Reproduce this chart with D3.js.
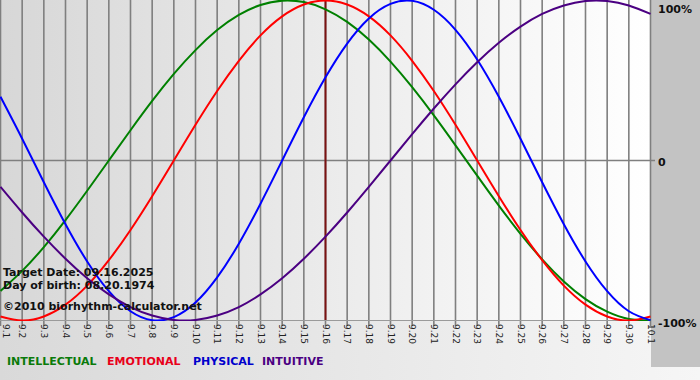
<!DOCTYPE html>
<html><head><meta charset="utf-8">
<script src="https://cdn.jsdelivr.net/npm/d3@7"></script>
<style>html,body{margin:0;padding:0;background:#fff;}svg{display:block;}</style>
</head><body>
<script>
// ---- data ----
const days = ["9.1","9.2","9.3","9.4","9.5","9.6","9.7","9.8","9.9","9.10","9.11","9.12","9.13","9.14","9.15","9.16","9.17","9.18","9.19","9.20","9.21","9.22","9.23","9.24","9.25","9.26","9.27","9.28","9.29","9.30","10.1"];
const intellectual = [-0.815,-0.690,-0.541,-0.372,-0.189,0,0.189,0.372,0.541,0.690,0.815,0.910,0.972,0.999,0.990,0.945,0.866,0.756,0.618,0.458,0.282,0.095,-0.095,-0.282,-0.458,-0.618,-0.756,-0.866,-0.945,-0.990,-0.999];
const emotional = [-0.975,-1,-0.975,-0.901,-0.782,-0.623,-0.434,-0.223,0,0.223,0.434,0.623,0.782,0.901,0.975,1,0.975,0.901,0.782,0.623,0.434,0.223,0,-0.223,-0.434,-0.623,-0.782,-0.901,-0.975,-1,-0.975];
const physical = [0.398,0.136,-0.136,-0.398,-0.631,-0.817,-0.942,-0.998,-0.979,-0.888,-0.731,-0.520,-0.270,0,0.270,0.520,0.731,0.888,0.979,0.998,0.942,0.817,0.631,0.398,0.136,-0.136,-0.398,-0.631,-0.817,-0.942,-0.998];
const intuitive = [-0.165,-0.325,-0.476,-0.614,-0.736,-0.837,-0.916,-0.969,-0.997,-0.997,-0.969,-0.916,-0.837,-0.736,-0.614,-0.476,-0.325,-0.165,0,0.165,0.325,0.476,0.614,0.736,0.837,0.916,0.969,0.997,0.997,0.969,0.916];
const seriesNames = ["INTELLECTUAL","EMOTIONAL","PHYSICAL","INTUITIVE"];
const yTickValues = [1,0,-1];
const yTickLabels = ["100%","0","-100%"];
const targetDay = "9.16";
const infoLines = ["Target Date: 09.16.2025","Day of birth: 08.20.1974","\u00A92010 biorhythm-calculator.net"];

// ---- chart ----
const W = 700, H = 380;
const svg = d3.select("body").append("svg").attr("width", W).attr("height", H);
const defs = svg.append("defs");
const g1 = defs.append("linearGradient").attr("id","bgPage").attr("x1","0").attr("x2","1").attr("y1","0").attr("y2","0");
g1.append("stop").attr("offset","0").attr("stop-color","#d9d9d9");
g1.append("stop").attr("offset","1").attr("stop-color","#f6f6f6");
const g2 = defs.append("linearGradient").attr("id","bgPlot").attr("x1","0").attr("x2","1").attr("y1","0").attr("y2","0");
g2.append("stop").attr("offset","0").attr("stop-color","#d7d7d7");
g2.append("stop").attr("offset","1").attr("stop-color","#ffffff");

const plot = {left: 0.5, right: 650.5, top: 0.5, bottom: 320.5};
const x = d3.scalePoint().domain(days).range([plot.left, plot.right]);
const y = d3.scaleLinear().domain([-1, 1]).range([plot.bottom, plot.top]);

svg.append("rect").attr("width",W).attr("height",H).attr("fill","url(#bgPage)");
svg.append("rect").attr("x",651).attr("y",0).attr("width",49).attr("height",367).attr("fill","#c3c3c3");
svg.append("rect").attr("x",0).attr("y",0).attr("width",651).attr("height",320.5).attr("fill","url(#bgPlot)");

// grid lines
svg.append("g").selectAll("line").data(days).join("line")
  .attr("x1", d => x(d)).attr("x2", d => x(d))
  .attr("y1", 0).attr("y2", 326)
  .attr("stroke", "#7f7f7f").attr("stroke-width", 1.6);
// zero line
svg.append("line").attr("x1",0).attr("x2",655).attr("y1",y(0)).attr("y2",y(0))
  .attr("stroke","#7f7f7f").attr("stroke-width",1.4);
// bottom axis line
svg.append("line").attr("x1",0).attr("x2",651).attr("y1",plot.bottom).attr("y2",plot.bottom)
  .attr("stroke","#9a9a9a").attr("stroke-width",1);

// x tick labels (rotated)
svg.append("g").selectAll("text").data(days).join("text")
  .attr("transform", d => `translate(${Math.max(2.5, x(d)-3)},${324}) rotate(90)`)
  .attr("font-family","Tahoma, 'DejaVu Sans', sans-serif").attr("font-size","9px")
  .attr("fill","#222").attr("text-anchor","start")
  .text(d => d);

// y labels at right
svg.append("g").selectAll("text").data(yTickValues).join("text")
  .attr("x", 658).attr("y", (d,i) => i===0 ? 13 : (i===1 ? y(d)+5 : 327))
  .attr("font-family","Verdana, 'DejaVu Sans', sans-serif").attr("font-size","11px").attr("font-weight","bold")
  .attr("fill","#111")
  .text((d,i) => yTickLabels[i]);

// target line
svg.append("line").attr("x1",x(targetDay)).attr("x2",x(targetDay)).attr("y1",0).attr("y2",320)
  .attr("stroke","#7a1212").attr("stroke-width",2);

// curves
const colors = ["#008000","#ff0000","#0000ff","#4b0082"];
const seriesData = [intellectual, emotional, physical, intuitive];
const line = d3.line().x((d,i) => x(days[i])).y(d => y(d)).curve(d3.curveNatural);
svg.append("clipPath").attr("id","clipPlot").append("rect").attr("x",0).attr("y",-1).attr("width",651).attr("height",322);
svg.append("g").attr("clip-path","url(#clipPlot)").selectAll("path").data(seriesData).join("path")
  .attr("d", line).attr("fill","none")
  .attr("stroke",(d,i)=>colors[i]).attr("stroke-width",2);

// info text
svg.append("g").selectAll("text").data(infoLines).join("text")
  .attr("x", 3).attr("y", (d,i) => [276, 289, 310][i])
  .attr("font-family","Verdana, 'DejaVu Sans', sans-serif").attr("font-size","11px").attr("font-weight","bold")
  .attr("fill","#111")
  .text(d => d);

// legend
const legendX = [7, 107, 193, 262];
const legendColors = ["#0a7a0a","#e8001a","#0000cc","#4b0082"];
svg.append("g").selectAll("text").data(seriesNames).join("text")
  .attr("x",(d,i)=>legendX[i]).attr("y",365)
  .attr("font-family","Verdana, 'DejaVu Sans', sans-serif").attr("font-size","11px").attr("font-weight","bold")
  .attr("fill",(d,i)=>legendColors[i])
  .text(d => d);
</script>
</body></html>
